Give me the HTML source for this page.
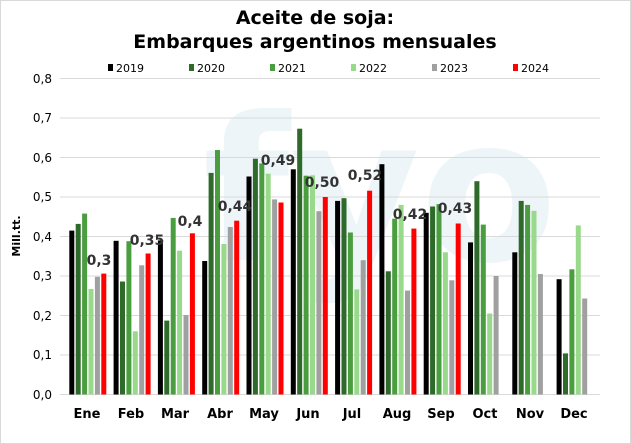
<!DOCTYPE html>
<html><head><style>
html,body{margin:0;padding:0;background:#fff}
svg{display:block;font-family:"Liberation Sans","DejaVu Sans",sans-serif}
</style></head><body>
<svg width="631" height="444" viewBox="0 0 631 444" xmlns="http://www.w3.org/2000/svg">
<rect x="0.5" y="0.5" width="630" height="443" fill="#fff" stroke="#d9d9d9"/>
<text x="315" y="24" font-size="19" font-weight="bold" text-anchor="middle" font-family="Verdana,'DejaVu Sans',sans-serif">Aceite de soja:</text>
<text x="315" y="48" font-size="19" font-weight="bold" text-anchor="middle" font-family="Verdana,'DejaVu Sans',sans-serif">Embarques argentinos mensuales</text>
<g font-size="11" font-family="Verdana,'DejaVu Sans',sans-serif">
<rect x="108" y="64" width="5" height="7" fill="#000"/><text x="116" y="72">2019</text>
<rect x="189" y="64" width="5" height="7" fill="#2e6b2a"/><text x="197" y="72">2020</text>
<rect x="270" y="64" width="5" height="7" fill="#4a9e3f"/><text x="278" y="72">2021</text>
<rect x="351" y="64" width="5" height="7" fill="#99d98c"/><text x="359" y="72">2022</text>
<rect x="432" y="64" width="5" height="7" fill="#a0a0a0"/><text x="440" y="72">2023</text>
<rect x="513" y="64" width="5" height="7" fill="#ff0000"/><text x="521" y="72">2024</text>
</g>
<text x="380" y="260" font-size="200" font-weight="bold" fill="#eef5f8" text-anchor="middle" font-family="'DejaVu Sans',sans-serif">fyo</text>
<g stroke="#d9d9d9" stroke-width="1">
<line x1="60" x2="600" y1="78.5" y2="78.5"/><line x1="60" x2="600" y1="118" y2="118"/>
<line x1="60" x2="600" y1="157.5" y2="157.5"/><line x1="60" x2="600" y1="197" y2="197"/>
<line x1="60" x2="600" y1="236.5" y2="236.5"/><line x1="60" x2="600" y1="276" y2="276"/>
<line x1="60" x2="600" y1="315.5" y2="315.5"/><line x1="60" x2="600" y1="355" y2="355"/>
<line x1="60" x2="600" y1="394.5" y2="394.5"/>
</g>
<g font-size="12" text-anchor="end" font-family="Verdana,'DejaVu Sans',sans-serif">
<text x="52" y="83">0,8</text><text x="52" y="122">0,7</text><text x="52" y="162">0,6</text>
<text x="52" y="201">0,5</text><text x="52" y="241">0,4</text><text x="52" y="280">0,3</text>
<text x="52" y="320">0,2</text><text x="52" y="359">0,1</text><text x="52" y="399">0,0</text>
</g>
<text transform="translate(20,236) rotate(-90)" font-size="11" font-weight="bold" text-anchor="middle" font-family="Verdana,'DejaVu Sans',sans-serif">Mill.tt.</text>
<g>
<rect x="69.3" y="230.6" width="5" height="163.9" fill="#000"/><rect x="75.7" y="223.9" width="5" height="170.6" fill="#2e6b2a"/><rect x="82.1" y="213.6" width="5" height="180.9" fill="#4a9e3f"/><rect x="88.5" y="289" width="5" height="105.5" fill="#99d98c"/><rect x="94.9" y="276.8" width="5" height="117.7" fill="#a0a0a0"/><rect x="101.3" y="273.6" width="5" height="120.9" fill="#ff0000"/>
<rect x="113.6" y="240.8" width="5" height="153.7" fill="#000"/><rect x="120" y="281.5" width="5" height="113" fill="#2e6b2a"/><rect x="126.4" y="241.2" width="5" height="153.3" fill="#4a9e3f"/><rect x="132.8" y="331.3" width="5" height="63.2" fill="#99d98c"/><rect x="139.2" y="265.3" width="5" height="129.2" fill="#a0a0a0"/><rect x="145.6" y="253.5" width="5" height="141" fill="#ff0000"/>
<rect x="157.9" y="240.4" width="5" height="154.1" fill="#000"/><rect x="164.3" y="320.6" width="5" height="73.9" fill="#2e6b2a"/><rect x="170.7" y="217.9" width="5" height="176.6" fill="#4a9e3f"/><rect x="177.1" y="250.7" width="5" height="143.8" fill="#99d98c"/><rect x="183.5" y="315.1" width="5" height="79.4" fill="#a0a0a0"/><rect x="189.9" y="233.3" width="5" height="161.2" fill="#ff0000"/>
<rect x="202.2" y="261" width="5" height="133.5" fill="#000"/><rect x="208.6" y="172.9" width="5" height="221.6" fill="#2e6b2a"/><rect x="215" y="150" width="5" height="244.5" fill="#4a9e3f"/><rect x="221.4" y="244" width="5" height="150.5" fill="#99d98c"/><rect x="227.8" y="227" width="5" height="167.5" fill="#a0a0a0"/><rect x="234.2" y="220.7" width="5" height="173.8" fill="#ff0000"/>
<rect x="246.5" y="176.5" width="5" height="218" fill="#000"/><rect x="252.9" y="158.7" width="5" height="235.8" fill="#2e6b2a"/><rect x="259.3" y="163.4" width="5" height="231.1" fill="#4a9e3f"/><rect x="265.7" y="173.7" width="5" height="220.8" fill="#99d98c"/><rect x="272.1" y="199.4" width="5" height="195.1" fill="#a0a0a0"/><rect x="278.5" y="202.5" width="5" height="192" fill="#ff0000"/>
<rect x="290.8" y="169.3" width="5" height="225.2" fill="#000"/><rect x="297.2" y="128.7" width="5" height="265.8" fill="#2e6b2a"/><rect x="303.6" y="175.7" width="5" height="218.8" fill="#4a9e3f"/><rect x="310" y="175.3" width="5" height="219.2" fill="#99d98c"/><rect x="316.4" y="211.2" width="5" height="183.3" fill="#a0a0a0"/><rect x="322.8" y="197" width="5" height="197.5" fill="#ff0000"/>
<rect x="335.1" y="200.9" width="5" height="193.6" fill="#000"/><rect x="341.5" y="198.2" width="5" height="196.3" fill="#2e6b2a"/><rect x="347.9" y="232.5" width="5" height="162" fill="#4a9e3f"/><rect x="354.3" y="289.4" width="5" height="105.1" fill="#99d98c"/><rect x="360.7" y="260.2" width="5" height="134.3" fill="#a0a0a0"/><rect x="367.1" y="190.7" width="5" height="203.8" fill="#ff0000"/>
<rect x="379.4" y="164.2" width="5" height="230.3" fill="#000"/><rect x="385.8" y="271.3" width="5" height="123.2" fill="#2e6b2a"/><rect x="392.2" y="218.7" width="5" height="175.8" fill="#4a9e3f"/><rect x="398.6" y="204.9" width="5" height="189.6" fill="#99d98c"/><rect x="405" y="290.6" width="5" height="103.9" fill="#a0a0a0"/><rect x="411.4" y="228.6" width="5" height="165.9" fill="#ff0000"/>
<rect x="423.7" y="212.8" width="5" height="181.7" fill="#000"/><rect x="430.1" y="206.5" width="5" height="188" fill="#2e6b2a"/><rect x="436.5" y="204.1" width="5" height="190.4" fill="#4a9e3f"/><rect x="442.9" y="252.3" width="5" height="142.2" fill="#99d98c"/><rect x="449.3" y="280.3" width="5" height="114.2" fill="#a0a0a0"/><rect x="455.7" y="223.5" width="5" height="171" fill="#ff0000"/>
<rect x="468" y="242.4" width="5" height="152.1" fill="#000"/><rect x="474.4" y="181.2" width="5" height="213.3" fill="#2e6b2a"/><rect x="480.8" y="224.6" width="5" height="169.9" fill="#4a9e3f"/><rect x="487.2" y="313.5" width="5" height="81" fill="#99d98c"/><rect x="493.6" y="276" width="5" height="118.5" fill="#a0a0a0"/>
<rect x="512.3" y="252.3" width="5" height="142.2" fill="#000"/><rect x="518.7" y="200.9" width="5" height="193.6" fill="#2e6b2a"/><rect x="525.1" y="204.9" width="5" height="189.6" fill="#4a9e3f"/><rect x="531.5" y="210.8" width="5" height="183.7" fill="#99d98c"/><rect x="537.9" y="274" width="5" height="120.5" fill="#a0a0a0"/>
<rect x="556.6" y="279.2" width="5" height="115.3" fill="#000"/><rect x="563" y="353.4" width="5" height="41.1" fill="#2e6b2a"/><rect x="569.4" y="269.3" width="5" height="125.2" fill="#4a9e3f"/><rect x="575.8" y="225.4" width="5" height="169.1" fill="#99d98c"/><rect x="582.2" y="298.5" width="5" height="96" fill="#a0a0a0"/>
</g>
<g font-size="13" font-weight="bold" text-anchor="middle" font-family="Verdana,'DejaVu Sans',sans-serif">
<text x="87" y="418">Ene</text><text x="131" y="418">Feb</text><text x="175" y="418">Mar</text>
<text x="220" y="418">Abr</text><text x="264" y="418">May</text><text x="308" y="418">Jun</text>
<text x="352" y="418">Jul</text><text x="397" y="418">Aug</text><text x="441" y="418">Sep</text>
<text x="485" y="418">Oct</text><text x="530" y="418">Nov</text><text x="574" y="418">Dec</text>
</g>
<g font-size="14" font-weight="bold" fill="#333" text-anchor="middle" font-family="Verdana,'DejaVu Sans',sans-serif">
<text x="99" y="265">0,3</text><text x="147" y="245">0,35</text><text x="190" y="226">0,4</text>
<text x="235" y="211">0,44</text><text x="278" y="165">0,49</text><text x="322" y="187">0,50</text>
<text x="365" y="180">0,52</text><text x="410" y="219">0,42</text><text x="455" y="213">0,43</text>
</g>
</svg>
</body></html>
